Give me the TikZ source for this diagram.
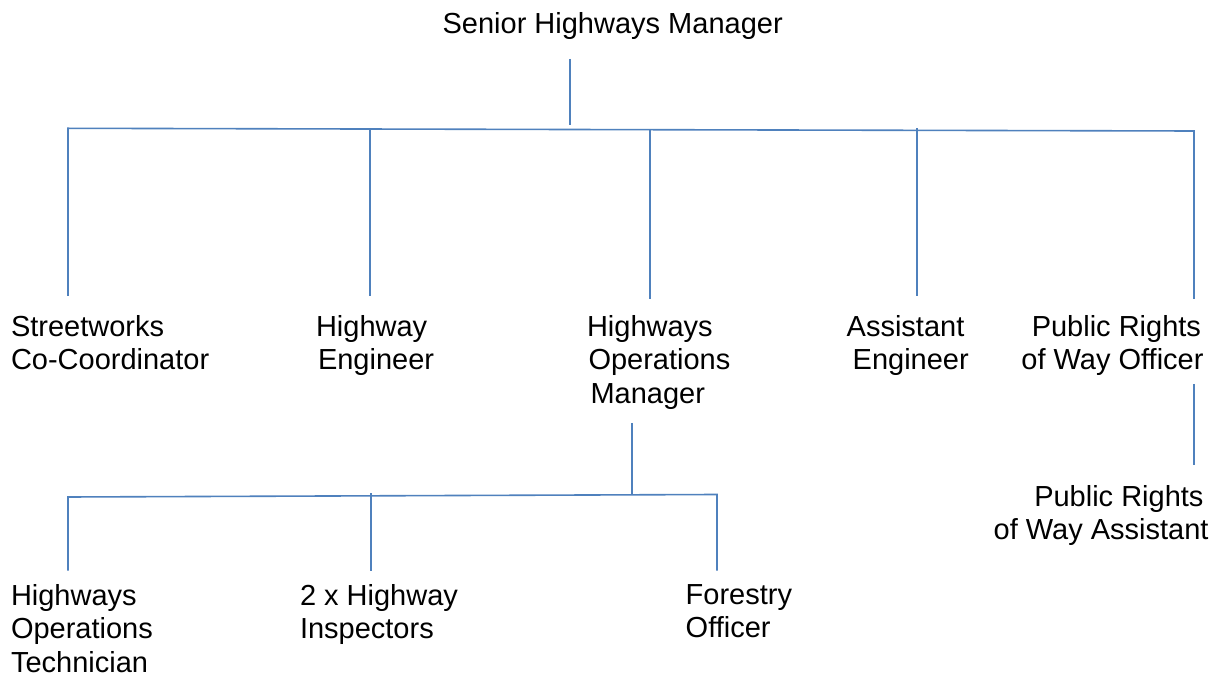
\documentclass[tikz,border=0pt]{standalone}
\usepackage{fontspec}
\setmainfont{Liberation Sans}
\definecolor{linkblue}{RGB}{79,129,189}
\begin{document}
\begin{tikzpicture}[x=1pt,y=-1pt,
  lbl/.style={inner sep=0pt,outer sep=0pt,font=\fontsize{29}{33.35}\selectfont},
  link/.style={draw=linkblue,line width=1.6pt}]
\useasboundingbox[fill=white] (0,0) rectangle (1219,676);
% labels
\node[lbl,anchor=base] (top) at (612.7,34) {Senior Highways Manager};
\node[lbl,anchor=north west,align=left] (sw) at (11,315.5) {Streetworks\\Co-Coordinator};
\node[lbl,anchor=north west,align=left] (he) at (316,315.5) {Highway\\\hspace*{2pt}Engineer};
\node[lbl,anchor=north west,align=left] (hom) at (587,315.5) {Highways\\\hspace*{1.5pt}Operations\\\hspace*{3.5pt}Manager};
\node[lbl,anchor=north west,align=left] (ae) at (846.7,315.5) {Assistant\\\hspace*{6pt}Engineer};
\node[lbl,anchor=north east,align=right] (prow) at (1203.5,315.5) {Public Rights\hspace*{2.5pt}\\of Way Officer};
\node[lbl,anchor=north east,align=right] (prowa) at (1208.5,485) {Public Rights\hspace*{5pt}\\of Way Assistant};
\node[lbl,anchor=north west,align=left] (hot) at (11,584.5) {Highways\\Operations\\Technician};
\node[lbl,anchor=north west,align=left] (hi) at (300,584.5) {2 x Highway\\Inspectors};
\node[lbl,anchor=north west,align=left] (fo) at (685.7,584.5) {Forestry\\Officer};
% connector points
\coordinate (t0) at (570,59);
\coordinate (t1) at (570,125);
\coordinate (bl) at (68,128.3);
\coordinate (br) at (1194,131);
\coordinate (d1) at (68,296);
\coordinate (u2) at (370,129.3);
\coordinate (d2) at (370,296);
\coordinate (u3) at (650,129.8);
\coordinate (d3) at (650,299);
\coordinate (u4) at (917,128.3);
\coordinate (d4) at (917,296);
\coordinate (d5) at (1194,299);
\coordinate (p0) at (1194,384);
\coordinate (p1) at (1194,465);
\coordinate (m0) at (632,423);
\coordinate (m1) at (632,494.7);
\coordinate (ll) at (68,497);
\coordinate (lr) at (717,494.5);
\coordinate (e1) at (68,570.7);
\coordinate (v2) at (371,493.3);
\coordinate (e2) at (371,570.7);
\coordinate (e3) at (717,570.7);
% connectors
\draw[link] (t0) -- (t1);
\draw[link] (d1) -- (bl) -- (br) -- (d5);
\draw[link] (u2) -- (d2);
\draw[link] (u3) -- (d3);
\draw[link] (u4) -- (d4);
\draw[link] (p0) -- (p1);
\draw[link] (m0) -- (m1);
\draw[link] (e1) -- (ll) -- (lr) -- (e3);
\draw[link] (v2) -- (e2);
\end{tikzpicture}
\end{document}
